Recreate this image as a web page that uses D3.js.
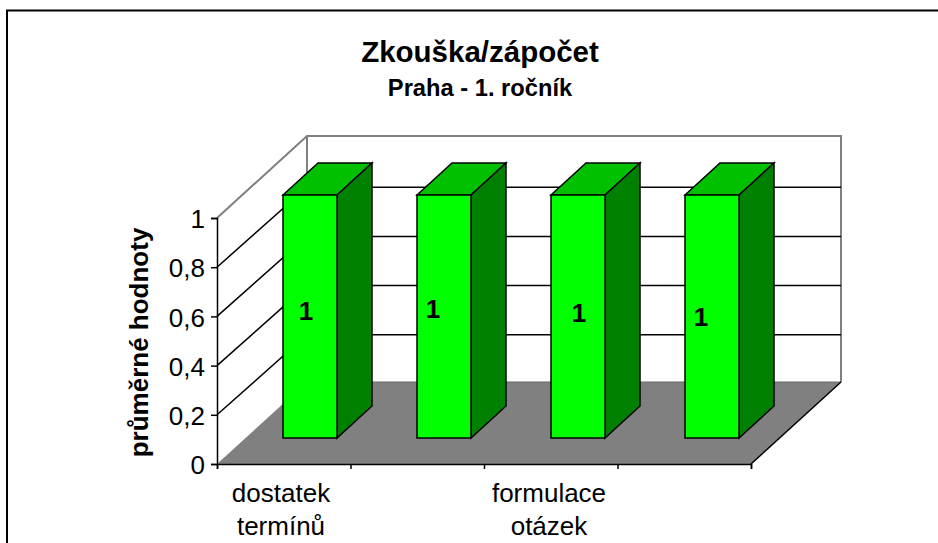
<!DOCTYPE html>
<html>
<head>
<meta charset="utf-8">
<script src="https://cdnjs.cloudflare.com/ajax/libs/d3/7.8.5/d3.min.js"></script>
<style>
    html, body { margin: 0; background: #fff; }
    text { font-family: "Liberation Sans", Arial, sans-serif; fill: #000; }
</style>
</head>
<body>
<div class="js-chart"></div>
<script>
'use strict';

var categories = ['a', 'b', 'c', 'd'];
var values = [1, 1, 1, 1];
var categoryLabels = [['dostatek', 'termínů'], [], ['formulace', 'otázek'], []];
var yTicks = [0, 0.2, 0.4, 0.6, 0.8, 1];
//the data labels sit a bit unevenly in the original
var labelNudge = [[0, 0], [-7, -2], [5, 2], [-7, 6]];

var svg = d3.select('.js-chart').append('svg')
    .attr('width', 938)
    .attr('height', 543)
    .style('display', 'block');

//chart frame, runs off the page on the right and bottom
svg.append('rect')
    .attr('x', 7).attr('y', 10.5)
    .attr('width', 1000).attr('height', 600)
    .style('fill', 'none')
    .style('stroke', '#000')
    .style('stroke-width', 2);

//depth of the 3d box
var depth = { x: 90, y: 82 };
var barDepth = { x: 35, y: 32 };

var x = d3.scaleBand().domain(categories).range([217, 751]);
var y = d3.scaleLinear().domain([0, 1]).range([464, 218]);

//bars stand further back on the floor so they have their own scales
var barX = d3.scaleBand().domain(categories).range([283, 819]);
var barY = d3.scaleLinear().domain([0, 1]).range([438, 195]);
var barW = 54;

var x0 = x.range()[0], x1 = x.range()[1];

function poly(pts) {
    return 'M' + pts.map(function (p) { return p.join(','); }).join('L') + 'Z';
}

//floor
svg.append('path')
    .attr('d', poly([[x0, y(0)], [x1, y(0)], [x1 + depth.x, y(0) - depth.y], [x0 + depth.x, y(0) - depth.y]]))
    .style('fill', '#808080')
    .style('stroke', 'none');

//walls
svg.append('path')
    .attr('d', 'M' + x0 + ',' + y(1) +
        'L' + (x0 + depth.x) + ',' + (y(1) - depth.y) +
        'H' + (x1 + depth.x) +
        'V' + (y(0) - depth.y))
    .style('fill', 'none')
    .style('stroke', '#808080')
    .style('stroke-width', 2);
svg.append('line')
    .attr('x1', x0 + depth.x).attr('x2', x0 + depth.x)
    .attr('y1', y(1) - depth.y).attr('y2', y(0) - depth.y)
    .style('stroke', '#808080')
    .style('stroke-width', 2);
svg.append('line')
    .attr('x1', x0 + depth.x).attr('x2', x1 + depth.x)
    .attr('y1', y(0) - depth.y).attr('y2', y(0) - depth.y)
    .style('stroke', '#666')
    .style('stroke-width', 1);

//gridlines, side wall and back wall
svg.selectAll('.js-grid')
    .data(yTicks.filter(function (d) { return d > 0 && d < 1; }))
    .enter().append('path')
    .attr('class', 'js-grid')
    .attr('d', function (d) {
        return 'M' + x0 + ',' + y(d) +
            'L' + (x0 + depth.x) + ',' + (y(d) - depth.y + 2) +
            'H' + (x1 + depth.x);
    })
    .style('fill', 'none')
    .style('stroke', '#000')
    .style('stroke-width', 1.5);

//front edge of the floor
svg.append('line')
    .attr('x1', x1).attr('x2', x1 + depth.x)
    .attr('y1', y(0)).attr('y2', y(0) - depth.y)
    .style('stroke', '#000')
    .style('stroke-width', 1.5);

//bars
var bars = svg.selectAll('.js-bar').data(values).enter().append('g').attr('class', 'js-bar');

bars.append('path')
    .attr('d', function (d, i) {
        var l = barX(categories[i]), t = barY(d);
        return poly([[l, t], [l + barDepth.x, t - barDepth.y], [l + barW + barDepth.x, t - barDepth.y], [l + barW, t]]);
    })
    .style('fill', '#00c000');

bars.append('path')
    .attr('d', function (d, i) {
        var r = barX(categories[i]) + barW, t = barY(d);
        return poly([[r, t], [r + barDepth.x, t - barDepth.y], [r + barDepth.x, barY(0) - barDepth.y], [r, barY(0)]]);
    })
    .style('fill', '#008000');

bars.append('rect')
    .attr('x', function (d, i) { return barX(categories[i]); })
    .attr('y', function (d) { return barY(d); })
    .attr('width', barW)
    .attr('height', function (d) { return barY(0) - barY(d); })
    .style('fill', '#00ff00');

bars.selectAll('path, rect')
    .style('stroke', '#000')
    .style('stroke-width', 1.5)
    .style('stroke-linejoin', 'miter');

//data labels
bars.append('text')
    .attr('x', function (d, i) { return barX(categories[i]) + barW / 2 - 4 + labelNudge[i][0]; })
    .attr('y', function (d, i) { return 320 + labelNudge[i][1]; })
    .attr('text-anchor', 'middle')
    .style('font-size', '26px')
    .style('font-weight', 'bold')
    .text(function (d) { return d; });

//axes
var yAxis = d3.axisLeft(y).tickValues(yTicks).tickSize(6).tickPadding(6)
    .tickFormat(function (d) { return String(d).replace('.', ','); });
var yG = svg.append('g').attr('transform', 'translate(' + x0 + ',0)').call(yAxis);

var xEdges = d3.scaleLinear().domain([0, categories.length]).range([x0, x1]);
var xAxis = d3.axisBottom(xEdges).tickValues(d3.range(categories.length + 1)).tickSize(5).tickFormat('');
var xG = svg.append('g').attr('transform', 'translate(0,' + y(0) + ')').call(xAxis);

[yG, xG].forEach(function (g) {
    g.select('.domain').style('stroke', '#000').style('stroke-width', 1.5);
    g.selectAll('.tick line').style('stroke', '#000').style('stroke-width', 1.5);
});
yG.selectAll('text')
    .attr('dy', '0.37em')
    .style('font-size', '26px')
    .style('font-family', '"Liberation Sans", Arial, sans-serif');

//category labels, only every other one fits
svg.selectAll('.js-cat')
    .data(categoryLabels)
    .enter().append('text')
    .attr('class', 'js-cat')
    .attr('x', function (d, i) { return barX(categories[i]) - 2; })
    .attr('y', 502)
    .attr('text-anchor', 'middle')
    .style('font-size', '26px')
    .selectAll('tspan')
    .data(function (d) { return d; })
    .enter().append('tspan')
    .attr('x', function () { return d3.select(this.parentNode).attr('x'); })
    .attr('dy', function (d, i) { return i ? 33 : 0; })
    .text(function (d) { return d; });

//titles
svg.append('text')
    .attr('x', 480).attr('y', 62)
    .attr('text-anchor', 'middle')
    .style('font-size', '29.5px')
    .style('font-weight', 'bold')
    .text('Zkouška/zápočet');
svg.append('text')
    .attr('x', 480).attr('y', 96)
    .attr('text-anchor', 'middle')
    .style('font-size', '23.7px')
    .style('font-weight', 'bold')
    .text('Praha - 1. ročník');

//y axis title
svg.append('text')
    .attr('transform', 'translate(148,342.5) rotate(-90)')
    .attr('text-anchor', 'middle')
    .style('font-size', '26px')
    .style('font-weight', 'bold')
    .text('průměrné hodnoty');
</script>
</body>
</html>
